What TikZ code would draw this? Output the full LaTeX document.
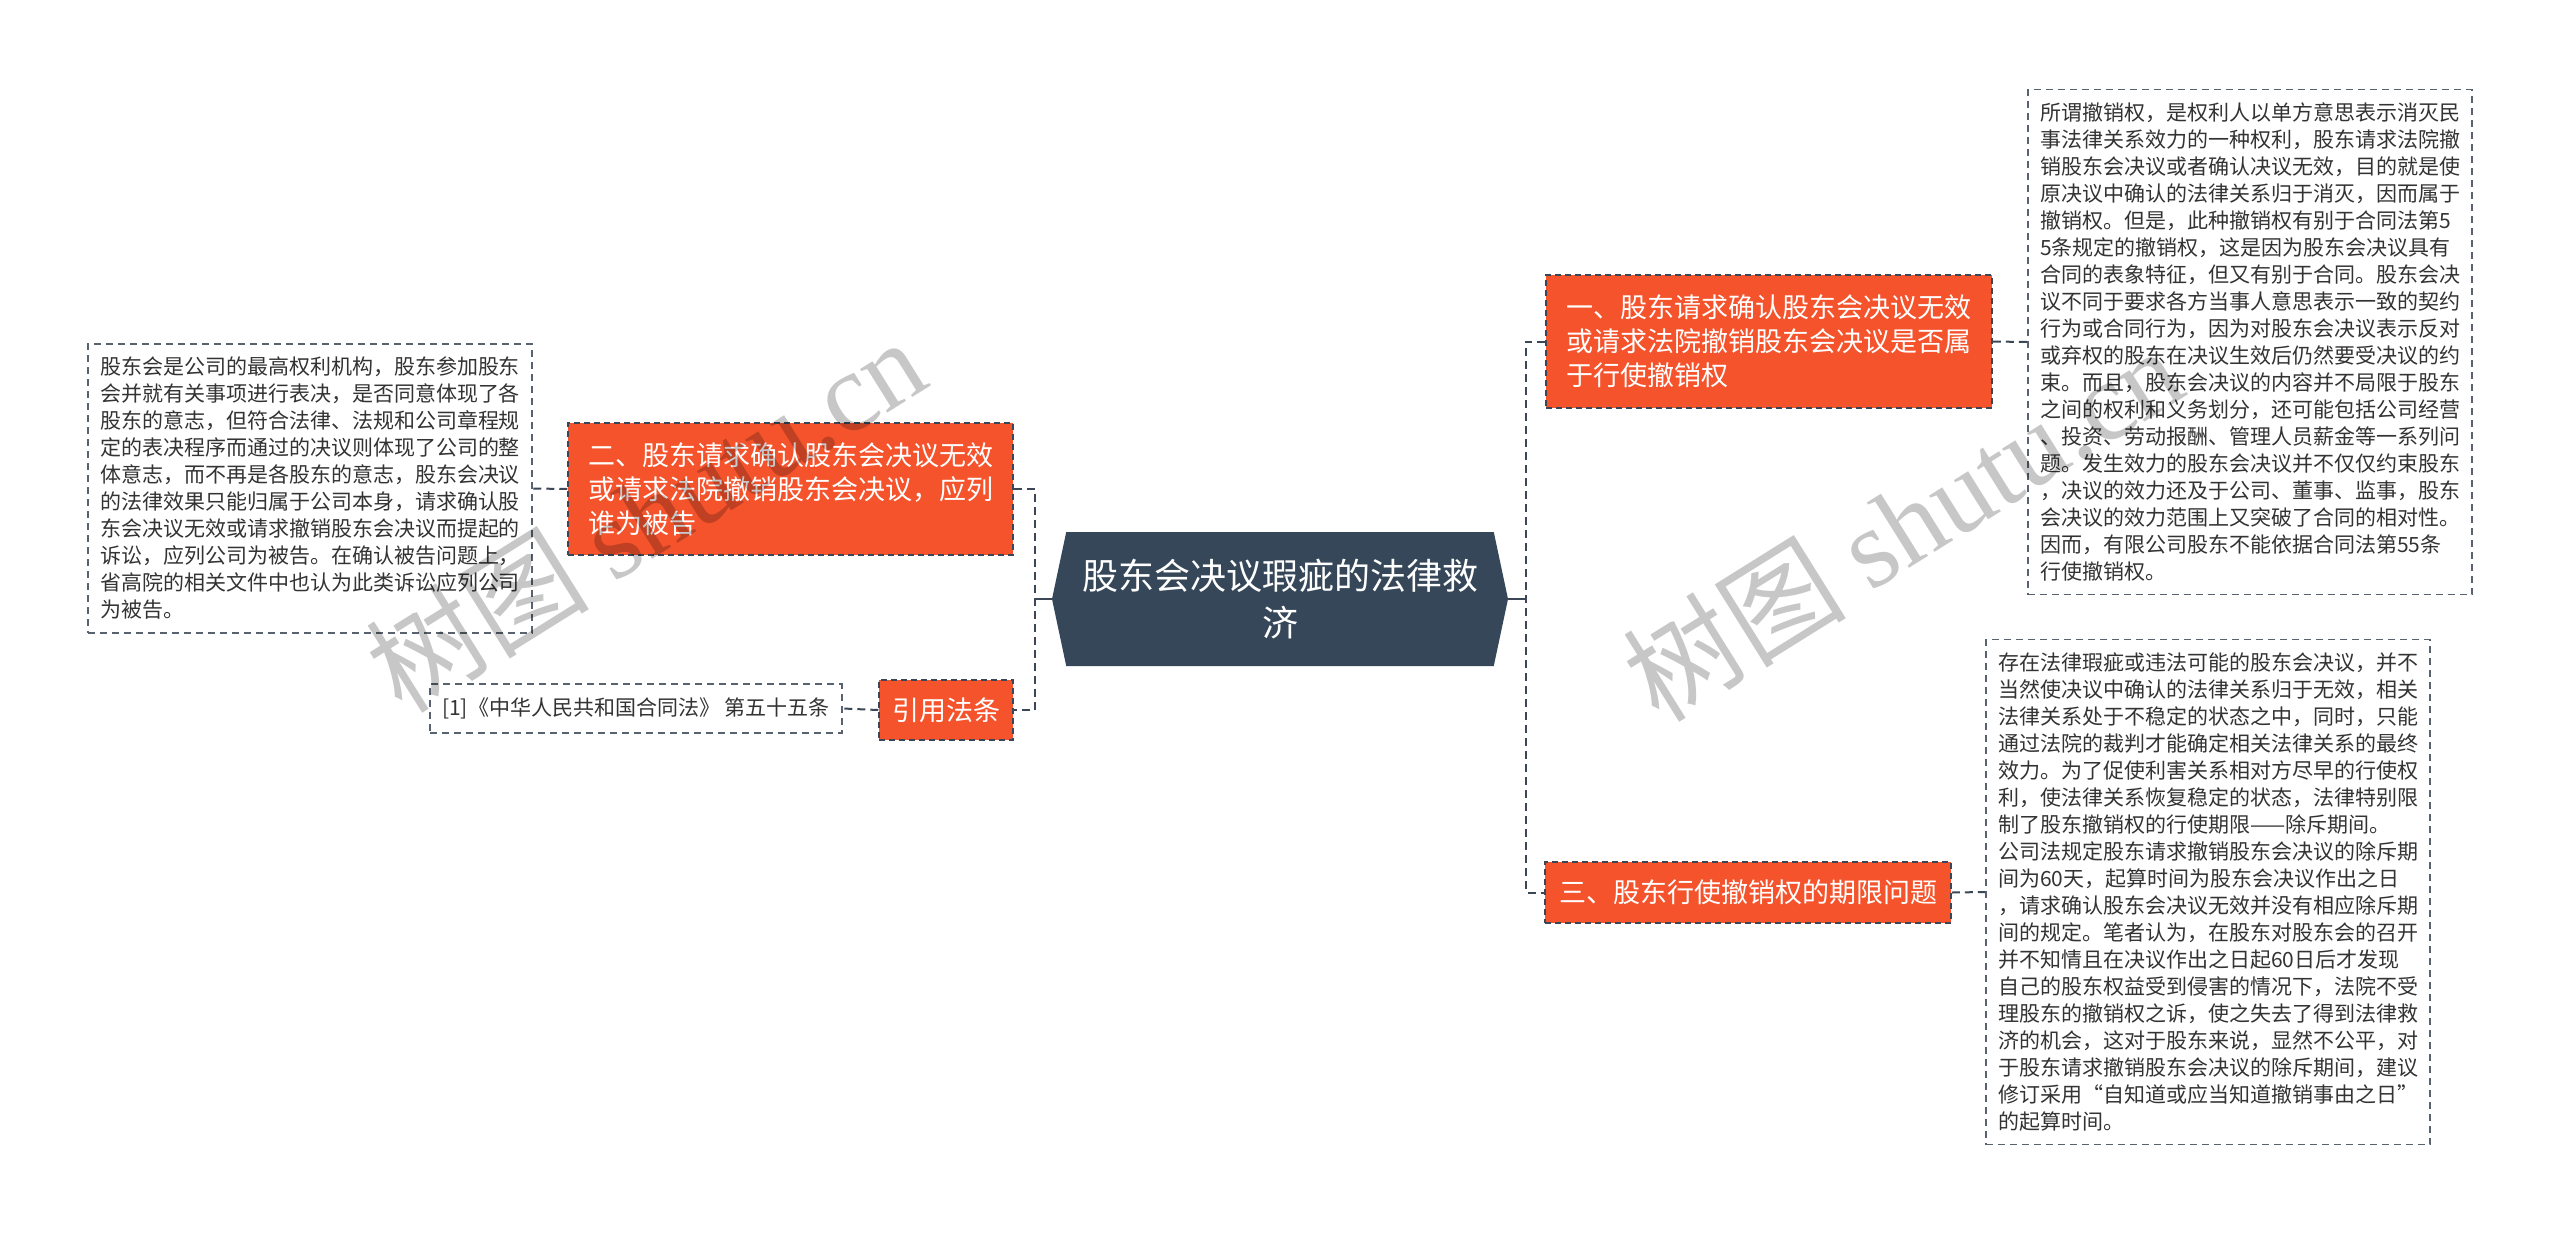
\documentclass[tikz,border=0pt]{standalone}
\usepackage{fontspec}
\setmainfont{Noto Sans CJK SC}
\newfontfamily\markfont{Liberation Serif}
\usetikzlibrary{shapes.symbols}
\definecolor{rootfill}{HTML}{354758}
\definecolor{topicfill}{HTML}{F5532C}
\definecolor{edgecol}{HTML}{3B4756}
\definecolor{notetext}{HTML}{333333}
\tikzset{
  root/.style={shape=signal, signal to=west and east, signal pointer angle=156,
    fill=rootfill, text=white, align=center, inner sep=0pt,
    minimum width=456, minimum height=134, font=\fontsize{36}{47}\selectfont},
  topic/.style={fill=topicfill, draw=edgecol, line width=1.5pt, dash pattern=on 6pt off 4pt,
    text=white, align=left, inner xsep=14pt, inner ysep=0pt, font=\fontsize{27}{34}\selectfont},
  note/.style={fill=white, draw=edgecol!85, line width=1.8pt, dash pattern=on 7pt off 5pt,
    text=notetext, align=left, inner xsep=12pt, inner ysep=0pt, font=\fontsize{21}{27}\selectfont},
  link/.style={draw=edgecol, line width=2pt, dash pattern=on 8pt off 5pt},
  stem/.style={draw=edgecol, line width=2.5pt},
  wmark/.style={text=black, text opacity=0.22, rotate=32, font=\fontsize{112}{112}\selectfont}
}
\begin{document}
\begin{tikzpicture}[x=1pt,y=-1pt]
        \fill[white] (0,0) rectangle (2560,1235);
        \useasboundingbox (0,0) rectangle (2560,1235);

        % centre
        \node[root] (root) at (1280,599) {股东会决议瑕疵的法律救\\济};
        \coordinate (ltrunk) at (1035,599);
        \coordinate (rtrunk) at (1526,599);

        % right side
        \node[topic, minimum width=446, minimum height=133] (topic1) at (1769,341.5)
          {一、股东请求确认股东会决议无效\\或请求法院撤销股东会决议是否属\\于行使撤销权};
        \node[note, minimum width=441, minimum height=505] (note1) at (2250,342)
          {所谓撤销权，是权利人以单方意思表示消灭民\\事法律关系效力的一种权利，股东请求法院撤\\销股东会决议或者确认决议无效，目的就是使\\原决议中确认的法律关系归于消灭，因而属于\\撤销权。但是，此种撤销权有别于合同法第5\\5条规定的撤销权，这是因为股东会决议具有\\合同的表象特征，但又有别于合同。股东会决\\议不同于要求各方当事人意思表示一致的契约\\行为或合同行为，因为对股东会决议表示反对\\或弃权的股东在决议生效后仍然要受决议的约\\束。而且，股东会决议的内容并不局限于股东\\之间的权利和义务划分，还可能包括公司经营\\、投资、劳动报酬、管理人员薪金等一系列问\\题。发生效力的股东会决议并不仅仅约束股东\\，决议的效力还及于公司、董事、监事，股东\\会决议的效力范围上又突破了合同的相对性。\\因而，有限公司股东不能依据合同法第55条\\行使撤销权。};

        \node[topic, minimum width=404, minimum height=61] (topic3) at (1748,892.5)
          {三、股东行使撤销权的期限问题};
        \node[note, minimum width=440, minimum height=505] (note3) at (2208,892)
          {存在法律瑕疵或违法可能的股东会决议，并不\\当然使决议中确认的法律关系归于无效，相关\\法律关系处于不稳定的状态之中，同时，只能\\通过法院的裁判才能确定相关法律关系的最终\\效力。为了促使利害关系相对方尽早的行使权\\利，使法律关系恢复稳定的状态，法律特别限\\制了股东撤销权的行使期限——除斥期间。\\公司法规定股东请求撤销股东会决议的除斥期\\间为60天，起算时间为股东会决议作出之日\\，请求确认股东会决议无效并没有相应除斥期\\间的规定。笔者认为，在股东对股东会的召开\\并不知情且在决议作出之日起60日后才发现\\自己的股东权益受到侵害的情况下，法院不受\\理股东的撤销权之诉，使之失去了得到法律救\\济的机会，这对于股东来说，显然不公平，对\\于股东请求撤销股东会决议的除斥期间，建议\\修订采用“自知道或应当知道撤销事由之日”\\的起算时间。};

        % left side
        \node[topic, minimum width=445, minimum height=132] (topic2) at (790.5,489)
          {二、股东请求确认股东会决议无效\\或请求法院撤销股东会决议，应列\\谁为被告};
        \node[note, minimum width=440, minimum height=289] (note2) at (310,488.5)
          {股东会是公司的最高权利机构，股东参加股东\\会并就有关事项进行表决，是否同意体现了各\\股东的意志，但符合法律、法规和公司章程规\\定的表决程序而通过的决议则体现了公司的整\\体意志，而不再是各股东的意志，股东会决议\\的法律效果只能归属于公司本身，请求确认股\\东会决议无效或请求撤销股东会决议而提起的\\诉讼，应列公司为被告。在确认被告问题上，\\省高院的相关文件中也认为此类诉讼应列公司\\为被告。};

        \node[topic, minimum width=134, minimum height=60, inner xsep=0pt] (cite) at (946,710) {引用法条};
        \node[note, minimum width=410, minimum height=49] (citetext) at (636,708.5)
          {[1]《中华人民共和国合同法》 第五十五条};

        % connectors
        \draw[stem] (root.west) -- (ltrunk);
        \draw[stem] (root.east) -- (rtrunk);
        \draw[link] (topic2.east) -| (ltrunk) |- (cite.east);
        \draw[link] (topic1.west) -| (rtrunk) |- (topic3.west);
        \draw[link] (topic1.east) -- (note1.west);
        \draw[link] (topic3.east) -- (note3.west);
        \draw[link] (topic2.west) -- (note2.east);
        \draw[link] (cite.west) -- (citetext.east);

        % watermarks
        \node[wmark] (markL) at (645,514) {树图 {\markfont shutu.cn}};
        \node[wmark] (markR) at (1902,523) {树图 {\markfont shutu.cn}};
      \end{tikzpicture}
\end{document}
